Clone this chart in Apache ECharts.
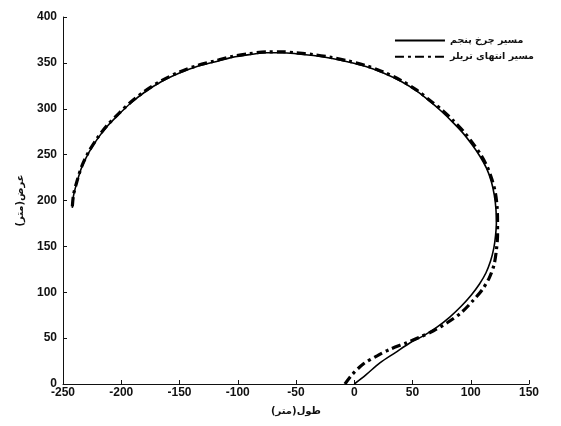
<!DOCTYPE html>
<html>
<head>
<meta charset="utf-8">
<script src="https://cdn.jsdelivr.net/npm/echarts@6/dist/echarts.min.js"></script>
<style>html,body{margin:0;padding:0;background:#fff}#c{width:561px;height:426px}</style>
</head>
<body>
<div id="c"></div>
<script>
var seriesNames = ['مسیر چرخ پنجم', 'مسیر انتهای تریلر'];
var xAxisName = 'طول(متر)';
var yAxisName = 'عرض(متر)';

var wheelX = [0,10,22,35,48,60,71,82,92,100.5,107.5,113,117,119.8,121.3,122,121.6,120.2,117.6,113.6,108,101,93,84,75,65,54,40,25,10,-5,-20,-35,-50,-62,-75,-90,-105,-120,-135,-150,-165,-180,-192,-202,-212,-220,-228,-234,-238,-241,-242];
var wheelY = [0,10,23,34,45,53,62,73,85,97,109,121,134,148,162,176,191,206,221,235,248,261,274,286,297,308,319,330,339,346,351,355,358,360,361,361,359,356,351,346,339,330,318,306,294,281,268,252,236,220,205,192];

var trailerX = [-8,-2,8,20,31,45,56,68,80,92,102,110,116,120,122,123,123,122.6,121.2,118.4,114.4,109,102,94,85,76,65,54,40,25,10,-5,-20,-35,-50,-62,-75,-90,-105,-120,-135,-150,-165,-180,-192,-202,-212,-220,-228,-234,-238,-241,-242];
var trailerY = [0,10,22,31,38,45,51,58,67,78,91,103,116,130,146,162,178,193,208,222,236,249,262,275,287,298,309,320,331,340,347,352,356,359,361,362,362,360,357,352,347,340,331,319,307,295,282,269,253,237,221,206,193];

function zip(xs, ys){ return xs.map(function(x,i){ return [x, ys[i]]; }); }

var chart = echarts.init(document.getElementById('c'));
var labelFont = {color:'#111', fontWeight:'bold', fontSize:12, fontFamily:'Liberation Sans, Arial, sans-serif'};
var persianFont = {color:'#111', fontWeight:'bold', fontSize:10, fontFamily:'DejaVu Sans, sans-serif'};
chart.setOption({
  animation:false,
  backgroundColor:'#fff',
  grid:{left:63, right:32, top:17, bottom:42},
  legend:{
    orient:'vertical', right:22, top:30, itemWidth:50, itemHeight:14, itemGap:5,
    itemStyle:{color:'rgba(0,0,0,0)', borderWidth:0, opacity:0},
    textStyle:{color:'#111', fontWeight:'bold', fontSize:9.5, fontFamily:'DejaVu Sans, sans-serif'},
    data:seriesNames
  },
  xAxis:{
    type:'value', min:-250, max:150, interval:50,
    name:xAxisName, nameLocation:'middle', nameGap:22,
    nameTextStyle:persianFont,
    axisLine:{lineStyle:{color:'#111', width:1}},
    axisTick:{inside:true, length:4, lineStyle:{color:'#111'}},
    axisLabel:Object.assign({margin:3}, labelFont),
    splitLine:{show:false}
  },
  yAxis:{
    type:'value', min:0, max:400, interval:50,
    name:yAxisName, nameLocation:'middle', nameGap:38, nameRotate:90,
    nameTextStyle:persianFont,
    axisLine:{show:true, onZero:false, lineStyle:{color:'#111', width:1}},
    axisTick:{show:true, inside:true, length:4, lineStyle:{color:'#111'}},
    axisLabel:Object.assign({margin:6}, labelFont),
    splitLine:{show:false}
  },
  series:[
    {name:seriesNames[0], type:'line', data:zip(wheelX, wheelY), symbol:'none', smooth:0.3,
     lineStyle:{color:'#000', width:1.6, type:'solid'}, itemStyle:{color:'#000'}},
    {name:seriesNames[1], type:'line', data:zip(trailerX, trailerY), symbol:'none', smooth:0.3,
     lineStyle:{color:'#000', width:3.2, type:[9,4,3,4]}, itemStyle:{color:'#000'}}
  ]
});
</script>
</body>
</html>
